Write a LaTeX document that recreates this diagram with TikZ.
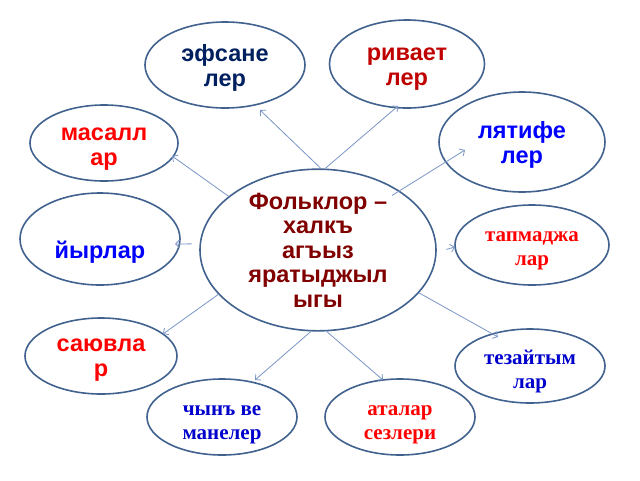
\documentclass[tikz,border=0pt]{standalone}
\usepackage{fontspec}
\setmainfont{Liberation Sans}
\newfontfamily\serifb{Liberation Serif}
\usetikzlibrary{shapes.geometric,arrows.meta}
\definecolor{edgeblue}{HTML}{41628F}
\definecolor{linkblue}{HTML}{7A96C6}
\definecolor{navytxt}{HTML}{002060}
\definecolor{darkred}{HTML}{C00000}
\definecolor{maroontxt}{HTML}{800000}
\definecolor{redtxt}{HTML}{FF0000}
\definecolor{bluetxt}{HTML}{0000FF}
\definecolor{sbluetxt}{HTML}{0000CC}
\begin{document}
\begin{tikzpicture}[x=1pt,y=-1pt,
  bub/.style={ellipse,draw=edgeblue,line width=1.6pt,inner sep=0pt,align=center,fill=white},
  sanst/.style={font=\fontsize{23.5}{24.5}\selectfont\bfseries,align=center,inner sep=0pt},
  sert/.style={font=\fontsize{21}{24}\selectfont\serifb\bfseries,align=center,inner sep=0pt},
  link/.style={draw=linkblue,line width=0.8pt,-{Straight Barb[length=4pt,width=8pt]}}]
\useasboundingbox[fill=white] (0,0) rectangle (640,480);

% bubbles
\node[bub,minimum width=160pt,minimum height=86pt] (efs) at (225,65) {};
\node[bub,minimum width=155pt,minimum height=88pt] (riv) at (407,64) {};
\node[bub,minimum width=148pt,minimum height=76pt] (mas) at (104,143) {};
\node[bub,minimum width=166pt,minimum height=100pt] (lya) at (522,142) {};
\node[bub,minimum width=160pt,minimum height=92pt] (yyr) at (100,239) {};
\node[bub,sanst,text=maroontxt,minimum width=236pt,minimum height=140pt] (c) at (318,250) {Фольклор –\\халкъ\\агъыз\\яратыджыл\\ыгы};
\node[bub,minimum width=154pt,minimum height=80pt] (tap) at (532,245) {};
\node[bub,minimum width=152pt,minimum height=76pt] (say) at (101,356) {};
\node[bub,minimum width=150pt,minimum height=74pt] (tez) at (530,366) {};
\node[bub,minimum width=150pt,minimum height=76pt] (chy) at (222,417) {};
\node[bub,minimum width=150pt,minimum height=76pt] (ata) at (400,417) {};

% texts
\node[sanst,text=navytxt] (efst) at (225,68) {эфсане\\лер};
\node[sanst,text=darkred] (rivt) at (407,69) {ривает\\лер};
\node[sanst,text=redtxt] (mast) at (104,149) {масалл\\ар};
\node[sanst,text=bluetxt] (lyat) at (522,145) {лятифе\\лер};
\node[sanst,text=bluetxt] (yyrt) at (100,252) {йырлар};
\node[sert,text=redtxt] (tapt) at (532,251) {тапмаджа\\лар};
\node[sanst,text=redtxt] (sayt) at (101,360) {саювла\\р};
\node[sert,text=sbluetxt] (tezt) at (530,371) {тезайтым\\лар};
\node[sert,text=sbluetxt] (chyt) at (222,425) {чынъ ве\\манелер};
\node[sert,text=redtxt] (atat) at (400,425) {аталар\\сезлери};

\coordinate (tefs) at (260,110);
\coordinate (triv) at (398,106);
\coordinate (tmas) at (172,156);
\coordinate (tlya) at (465,150);
\coordinate (tyyr) at (175,244);
\coordinate (ttap) at (455,247);
\coordinate (tsay) at (163,334);
\coordinate (ttez) at (498,337);
\coordinate (tchy) at (255,380);
\coordinate (tata) at (383,380);

\draw[link] (c.88) -- (tefs);
\draw[link] (c.85) -- (triv);
\draw[link] (c.149.5) -- (tmas);
\draw[link,shorten <=-9pt] (c.36) -- (tlya);
\draw[link,shorten <=8pt] (c.177) -- (tyyr);
\draw[link,shorten <=10pt] (c.-1) -- (ttap);
\draw[link] (c.204) -- (tsay);
\draw[link] (c.-23) -- (ttez);
\draw[link] (c.-95) -- (tchy);
\draw[link] (c.-84) -- (tata);
\end{tikzpicture}
\end{document}
